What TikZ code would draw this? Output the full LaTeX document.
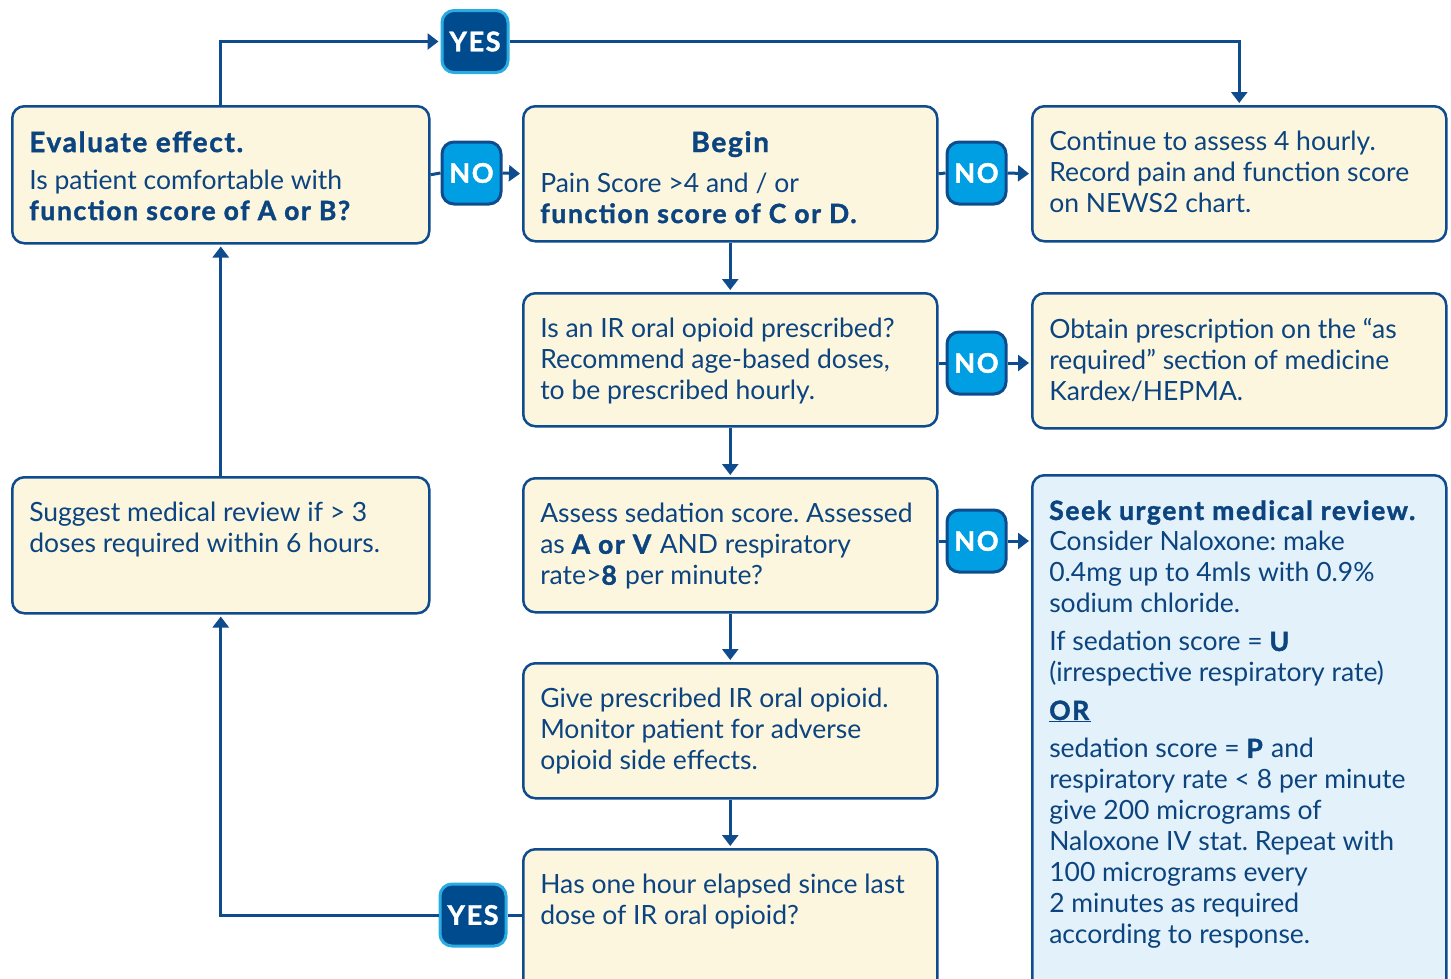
\documentclass[tikz,border=0pt]{standalone}
\usepackage{fontspec}
\setmainfont{Lato}[BoldFeatures={FakeBold=1.5,LetterSpace=6}]
\usetikzlibrary{arrows.meta}

\definecolor{navy}{HTML}{0F4C8E}
\definecolor{ink}{HTML}{0B447F}
\definecolor{cream}{HTML}{FDF6DF}
\definecolor{paleblue}{HTML}{E3F1FA}
\definecolor{skyblue}{HTML}{009FE3}
\definecolor{darkblue}{HTML}{004B8D}
\definecolor{cyanedge}{HTML}{2AACE2}

% text block of a card: height, then contents (top aligned)
\newcommand{\cardtext}[3][380pt]{\parbox[t][#2][t]{#1}{#3}}
\newcommand{\cardtitle}[1]{{\fontsize{28}{31}\selectfont\bfseries #1}}

\begin{document}
\begin{tikzpicture}[x=1pt,y=-1pt,
  font=\fontsize{26.5}{31}\selectfont\frenchspacing,
  stepbox/.style={draw=navy, fill=cream, line width=2.5pt, rounded corners=12pt,
    anchor=north west, inner xsep=17pt, inner ysep=25pt, text=ink},
  nobadge/.style={draw=navy, fill=skyblue, line width=3pt, rounded corners=12pt,
    minimum width=59pt, minimum height=62pt, inner sep=0pt, text=white,
    font=\fontsize{27}{30}\selectfont\bfseries},
  yesbadge/.style={nobadge, draw=cyanedge, fill=darkblue, minimum width=66pt},
  link/.style={draw=navy, line width=3pt},
  flow/.style={link, -{Triangle[length=11pt,width=16pt]}, shorten >=2pt}]

\useasboundingbox (0,0) rectangle (1451,978);

% Left column
\node[stepbox] (eval) at (11,105) {\cardtext[383pt]{87pt}{\cardtitle{Evaluate effect.}\\[6pt]
  Is patient comfortable with\\ \textbf{function score of A or B?}}};
\node[stepbox] (suggest) at (11,476) {\cardtext[383pt]{86pt}{Suggest medical review if > 3\\
  doses required within 6 hours.}};

% Middle column
\node[stepbox] (begin) at (522,105) {\cardtext{85pt}{\hfill\cardtitle{Begin}\hfill\null\\[9pt]
  Pain Score >4 and / or\\ \textbf{function score of C or D.}}};
\node[stepbox] (ir) at (522,292) {\cardtext{83pt}{Is an IR oral opioid prescribed?\\
  Recommend age-based doses,\\ to be prescribed hourly.}};
\node[stepbox] (assess) at (522,477) {\cardtext{84pt}{Assess sedation score. Assessed\\
  as \textbf{A or V} AND respiratory\\ rate>\textbf{8} per minute?}};
\node[stepbox] (give) at (522,662) {\cardtext{85pt}{Give prescribed IR oral opioid.\\
  Monitor patient for adverse\\ opioid side effects.}};
\node[stepbox] (has) at (522,848) {\cardtext{110pt}{Has one hour elapsed since last\\
  dose of IR oral opioid?}};

% Right column
\node[stepbox] (cont) at (1031,105) {\cardtext{85pt}{Continue to assess 4 hourly.\\
  Record pain and function score\\ on NEWS2 chart.}};
\node[stepbox] (obtain) at (1031,292) {\cardtext{85pt}{Obtain prescription on the “as\\
  required” section of medicine\\ Kardex/HEPMA.}};
\node[stepbox, fill=paleblue] (seek) at (1031,474) {\cardtext{490pt}{\textbf{Seek urgent medical review.}\\
  Consider Naloxone: make\\ 0.4mg up to 4mls with 0.9\%\\ sodium chloride.\\[7pt]
  If sedation score = \textbf{U}\\ (irrespective respiratory rate)\\[7pt]
  \underline{\textbf{OR}}\\[7pt]
  sedation score = \textbf{P} and\\ respiratory rate < 8 per minute\\ give 200 micrograms of\\
  Naloxone IV stat. Repeat with\\ 100 micrograms every\\ 2 minutes as required\\
  according to response.}};

% Decision badges
\node[yesbadge] (yes1) at (475,41.5) {YES};
\node[nobadge] (no1) at (471.5,173) {NO};
\node[nobadge] (no2) at (976.5,173) {NO};
\node[nobadge] (no3) at (976.5,363) {NO};
\node[nobadge] (no4) at (976.5,541) {NO};
\node[yesbadge] (yes2) at (473,915) {YES};

% NO branches
\draw[link] (eval.east) -- (no1.west);
\draw[flow] (no1.east) -- (begin.west);
\draw[link] (begin.east) -- (no2.west);
\draw[flow] (no2.east) -- (cont.west);
\draw[link] (no3.west -| ir.east) -- (no3.west);
\draw[flow] (no3.east) -- (no3.east -| obtain.west);
\draw[link] (no4.west -| assess.east) -- (no4.west);
\draw[flow] (no4.east) -- (no4.east -| seek.west);

% Main chain
\draw[flow] (begin.south) -- (ir.north);
\draw[flow] (ir.south) -- (assess.north);
\draw[flow] (assess.south) -- (give.north);
\draw[flow] (give.south) -- (has.north);

% YES routes
\draw[flow] (eval.north) |- (yes1.west);
\draw[flow] (yes1.east) -| (cont.north);
\draw[link] (yes2.east -| has.west) -- (yes2.east);
\draw[flow] (yes2.west) -| (suggest.south);
\draw[flow] (suggest.north) -- (eval.south);

\end{tikzpicture}
\end{document}
